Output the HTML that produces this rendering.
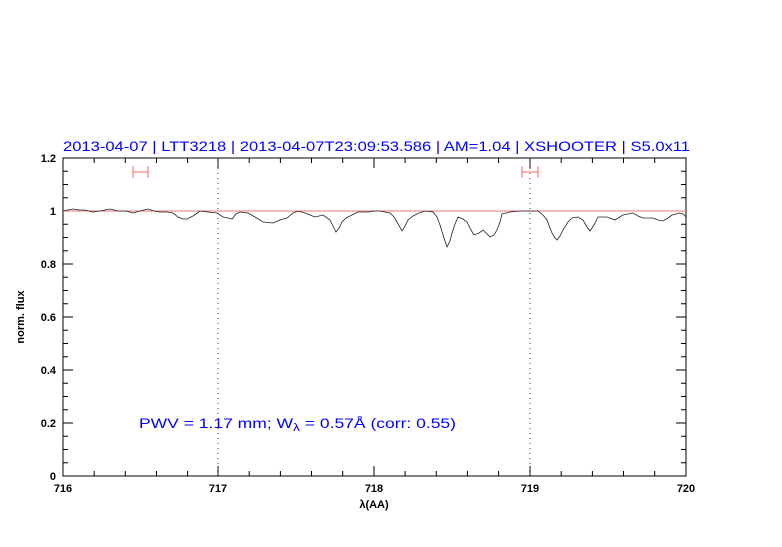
<!DOCTYPE html>
<html><head><meta charset="utf-8"><style>body{margin:0;background:#fff}</style></head><body>
<svg width="782" height="542" xmlns="http://www.w3.org/2000/svg" font-family="Liberation Sans, sans-serif">
<rect width="782" height="542" fill="#fff"/>
<text x="63" y="151" fill="#00f" font-size="14" textLength="627" lengthAdjust="spacingAndGlyphs">2013-04-07 | LTT3218 | 2013-04-07T23:09:53.586 | AM=1.04 | XSHOOTER | S5.0x11</text>
<rect x="63" y="158" width="623" height="318" fill="none" stroke="#000" stroke-width="1"/>
<g stroke="#000" stroke-width="1">
<path d="M94.2,476v-5M125.3,476v-5M156.5,476v-5M187.6,476v-5M249.2,476v-5M280.4,476v-5M311.5,476v-5M342.7,476v-5M405.1,476v-5M436.3,476v-5M467.4,476v-5M498.6,476v-5M561.2,476v-5M592.4,476v-5M623.5,476v-5M654.7,476v-5
M94.2,158v5M125.3,158v5M156.5,158v5M187.6,158v5M249.2,158v5M280.4,158v5M311.5,158v5M342.7,158v5M405.1,158v5M436.3,158v5M467.4,158v5M498.6,158v5M561.2,158v5M592.4,158v5M623.5,158v5M654.7,158v5
M218,476v-10M374,476v-10M530,476v-10M218,158v10M374,158v10M530,158v10"/>
<path d="M63,462.75h5M63,449.5h5M63,436.25h5M63,409.75h5M63,396.5h5M63,383.25h5M63,356.75h5M63,343.5h5M63,330.25h5M63,303.75h5M63,290.5h5M63,277.25h5M63,250.75h5M63,237.5h5M63,224.25h5M63,197.75h5M63,184.5h5M63,171.25h5M63,423h10M63,370h10M63,317h10M63,264h10M63,211h10
M686,462.75h-5M686,449.5h-5M686,436.25h-5M686,409.75h-5M686,396.5h-5M686,383.25h-5M686,356.75h-5M686,343.5h-5M686,330.25h-5M686,303.75h-5M686,290.5h-5M686,277.25h-5M686,250.75h-5M686,237.5h-5M686,224.25h-5M686,197.75h-5M686,184.5h-5M686,171.25h-5M686,423h-10M686,370h-10M686,317h-10M686,264h-10M686,211h-10"/>
</g>
<g stroke="#333" stroke-dasharray="1,4" stroke-width="1"><path d="M218,158V476M530,158V476"/></g>
<path d="M63,211H686" stroke="#e77" stroke-width="1"/>
<polyline fill="none" stroke="#222" stroke-width="0.8" points="63,211 68,210 73,209 79,210 85,210 93,212 100,211 110,209 118,211 126,211 133,213 140,211 148,209 154,211 160,212 167,212 173,213 178,217 183,219 187,219 193,216 200,211 208,212 217,213 223,217 228,218 232,219 236,214 240,212 248,213 255,217 263,222 273,223 280,220 287,218 293,213 298,211 305,213 310,215 315,217 323,215 330,220 333,226 336,232 339,228 342,222 346,218 350,216 358,212 368,212 375,211 380,211 385,212 390,213 394,217 397,222 402,231 405,226 408,220 413,216 419,213 425,211 433,212 437,217 440,225 444,238 447,247 450,241 452,233 455,224 458,217 463,219 467,222 471,230 474,235 479,233 483,230 487,234 490,237 494,235 497,230 500,222 502,214 510,212 520,211 530,211 538,211 543,215 547,220 550,228 552,233 555,238 557,240 560,236 563,230 568,222 572,218 578,217 583,220 587,227 590,231 594,225 598,217 607,217 615,220 623,215 633,213 638,216 643,218 653,218 658,220 663,221 668,218 672,215 680,213 683,214 686,217"/>
<g stroke="#f66" stroke-width="1"><path d="M133,172H148M133,166V178M148,166V178M522,172H538M522,166V178M538,166V178"/></g>
<g font-size="11" text-anchor="end" fill="#000" font-weight="bold"><text x="56" y="480">0</text><text x="56" y="427">0.2</text><text x="56" y="374">0.4</text><text x="56" y="321">0.6</text><text x="56" y="268">0.8</text><text x="56" y="215">1</text><text x="56" y="162">1.2</text></g>
<g font-size="11" text-anchor="middle" fill="#000" font-weight="bold"><text x="63" y="492">716</text><text x="218" y="492">717</text><text x="374" y="492">718</text><text x="530" y="492">719</text><text x="686" y="492">720</text>
<text x="374" y="508">λ(AA)</text>
<text transform="translate(24,317) rotate(-90)">norm. flux</text></g>
<text x="139" y="428" fill="#00f" font-size="14" textLength="317" lengthAdjust="spacingAndGlyphs">PWV = 1.17 mm; W<tspan font-size="11" dy="3">λ</tspan><tspan dy="-3"> = 0.57Å (corr: 0.55)</tspan></text>
</svg>
</body></html>
